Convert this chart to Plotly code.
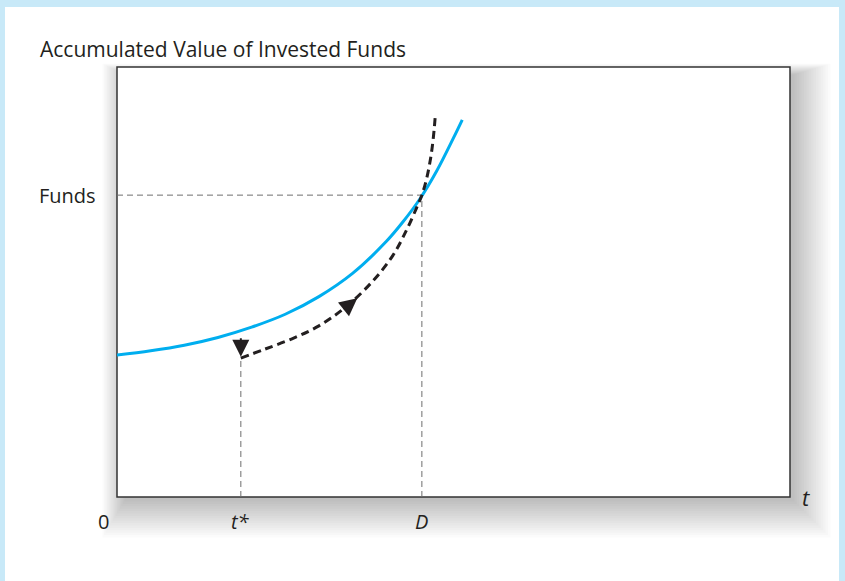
import plotly.graph_objects as go

# canvas / plot box in pixels
W, H = 845, 581
L, T, R, B = 117, 67, 790, 497

# data (t on 0-10, value on 0-10)
t_star = 1.84
t_D = 4.53
funds = 7.02

blue_t = [0, 0.5, 1.0, 1.5, 2.0, 2.5, 3.0, 3.5, 4.0, 4.25, 4.5, 4.75, 5.0, 5.13]
blue_v = [3.30, 3.40, 3.53, 3.71, 3.95, 4.25, 4.66, 5.20, 5.94, 6.40, 6.93, 7.58, 8.35, 8.77]

dash_t = [1.84, 2.2, 2.6, 3.0, 3.4, 3.8, 4.1, 4.3, 4.45, 4.53, 4.6, 4.66, 4.70, 4.73]
dash_v = [3.23, 3.44, 3.68, 3.98, 4.42, 5.02, 5.62, 6.20, 6.72, 7.02, 7.40, 7.88, 8.35, 8.88]

tick_pos = [t_star, t_D]
tick_txt = ["<i>t*</i>", "<i>D</i>"]


def px(x):
    return (x - L) / (R - L)


def py(y):
    return (B - y) / (B - T)


FONT = "Open Sans"
INK = "#231f20"
GRAY = "#6e6e6e"
FS = 20

fig = go.Figure()

# guide lines
guide = dict(color=GRAY, width=1, dash="6px,4px")
fig.add_trace(go.Scatter(x=[0, t_D], y=[funds, funds], mode="lines", line=guide))
fig.add_trace(go.Scatter(x=[t_star, t_star], y=[0, dash_v[0]], mode="lines", line=guide))
fig.add_trace(go.Scatter(x=[t_D, t_D], y=[0, funds], mode="lines", line=guide))

# curves
fig.add_trace(go.Scatter(x=blue_t, y=blue_v, mode="lines", line_shape="spline",
                         line=dict(color="#00aeef", width=3)))
fig.add_trace(go.Scatter(x=dash_t, y=dash_v, mode="lines", line_shape="spline",
                         line=dict(color=INK, width=3, dash="8px,5px")))

shapes = []
# light blue frame
fb = "#c8e9f8"
shapes.append(dict(type="rect", xref="paper", yref="paper", x0=px(0), x1=px(W), y0=py(0), y1=py(7),
                   fillcolor=fb, line_width=0, layer="below"))
shapes.append(dict(type="rect", xref="paper", yref="paper", x0=px(0), x1=px(5), y0=py(0), y1=py(H),
                   fillcolor=fb, line_width=0, layer="below"))
shapes.append(dict(type="rect", xref="paper", yref="paper", x0=px(839), x1=px(W), y0=py(0), y1=py(H),
                   fillcolor=fb, line_width=0, layer="below"))

# soft drop shadow behind the plot box
for k in range(16):
    e = 1.5 + k * 2.4
    shapes.append(dict(type="rect", xref="paper", yref="paper",
                       x0=px(L + 8 - e * 0.6), x1=px(R + 3 + e),
                       y0=py(B + 3 + e), y1=py(T + 8 - e * 0.3),
                       fillcolor="black", opacity=0.015, line_width=0, layer="below"))
# plot box
shapes.append(dict(type="rect", xref="paper", yref="paper", x0=0, x1=1, y0=0, y1=1,
                   fillcolor="white", line=dict(color="#333333", width=1.5), layer="below"))

annotations = [
    dict(text="Accumulated Value of Invested Funds", xref="paper", yref="paper",
         x=px(38), y=py(49), xanchor="left", yanchor="middle", showarrow=False,
         font=dict(family=FONT, size=21, color=INK)),
    dict(text="Funds", xref="paper", yref="y", x=px(98), y=funds, xanchor="right",
         yanchor="middle", showarrow=False, font=dict(family=FONT, size=FS, color=INK)),
    dict(text="0", xref="paper", yref="paper", x=px(103), y=py(521), xanchor="center",
         yanchor="middle", showarrow=False, font=dict(family=FONT, size=FS, color=INK)),
    dict(text="<i>t</i>", xref="paper", yref="paper", x=px(806), y=py(497), xanchor="center",
         yanchor="middle", showarrow=False, font=dict(family=FONT, size=FS + 2, color=INK)),
    # arrow from blue curve down to the dashed curve at t*
    dict(x=t_star, y=3.26, xref="x", yref="y", ax=0, ay=-20, showarrow=True,
         arrowhead=2, arrowsize=1.7, arrowwidth=2, arrowcolor=INK, text=""),
    # direction arrow along the dashed curve
    dict(x=3.57, y=4.62, xref="x", yref="y", ax=-15, ay=12, showarrow=True,
         arrowhead=2, arrowsize=1.6, arrowwidth=2.2, arrowcolor=INK, text=""),
]
for pos, txt in zip(tick_pos, tick_txt):
    annotations.append(dict(text=txt, xref="x", yref="paper", x=pos, y=py(521),
                            xanchor="center", yanchor="middle", showarrow=False,
                            font=dict(family=FONT, size=FS, color=INK)))

fig.update_layout(
    width=W, height=H,
    margin=dict(l=L, r=W - R, t=T, b=H - B, pad=0),
    paper_bgcolor="white", plot_bgcolor="rgba(0,0,0,0)",
    showlegend=False,
    xaxis=dict(range=[0, 10], visible=False, fixedrange=True),
    yaxis=dict(range=[0, 10], visible=False, fixedrange=True),
    shapes=shapes,
    annotations=annotations,
)

fig.write_html("out.html", config={"displayModeBar": False},
               post_script="document.body.style.margin='0';")
